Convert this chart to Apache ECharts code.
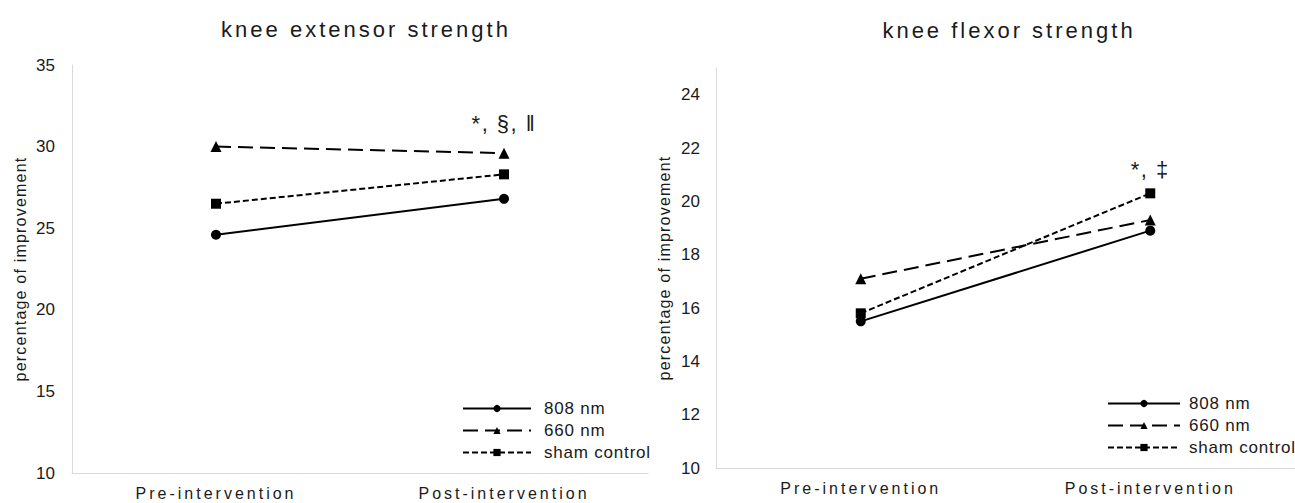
<!DOCTYPE html>
<html>
<head>
<meta charset="utf-8">
<script src="https://cdn.jsdelivr.net/npm/echarts@6/dist/echarts.min.js"></script>
<style>
html,body{margin:0;padding:0;background:#fff;}
#main{width:1295px;height:503px;}
#main text[style*="lsTitle"]{letter-spacing:3px;}
#main text[style*="lsCat"]{letter-spacing:3px;}
#main text[style*="lsName"]{letter-spacing:1.2px;}
#main text[style*="lsMark"]{letter-spacing:1.5px;}
#main text[style*="lsLeg"]{letter-spacing:0.8px;}
</style>
</head>
<body>
<div id="main"></div>
<script>
var categories = ['Pre-intervention', 'Post-intervention'];
var seriesNames = ['808 nm', '660 nm', 'sham control'];
var extensor808 = [24.6, 26.8];
var extensor660 = [30.0, 29.6];
var extensorSham = [26.5, 28.3];
var flexor808 = [15.5, 18.9];
var flexor660 = [17.1, 19.3];
var flexorSham = [15.8, 20.3];
var titles = ['knee extensor strength', 'knee flexor strength'];
var yName = 'percentage of improvement';
var extensorMark = '*, §, \u2016';
var flexorMark = '*, \u2021';

var BASE = '"Liberation Sans", Arial, sans-serif';
function fam(tag) { return tag ? tag + ', ' + BASE : BASE; }
var TXT = '#1a1a1a';
var styles = [
  {symbol: 'circle', symbolSize: 10, type: 'solid'},
  {symbol: 'triangle', symbolSize: 11, type: [15, 7]},
  {symbol: 'rect', symbolSize: 10, type: [6, 3]}
];

function mk(name, idx, data, axisIdx, markIdx, markText, markDist) {
  var st = styles[idx];
  var d = data.map(function (v, i) {
    if (i === markIdx) {
      return {value: v, label: {show: true, position: 'top', distance: markDist, formatter: markText,
        fontSize: 22, color: TXT, fontFamily: fam('lsMark')}};
    }
    return v;
  });
  return {
    name: name, type: 'line', xAxisIndex: axisIdx, yAxisIndex: axisIdx,
    data: d, symbol: st.symbol, symbolSize: st.symbolSize, showSymbol: true,
    lineStyle: {color: '#000', width: 2, type: st.type},
    itemStyle: {color: '#000'},
    emphasis: {disabled: true}, animation: false, z: 3
  };
}

var axisLine = {show: true, lineStyle: {color: '#d9d9d9', width: 1}};
function legend(left, top, w, pad) {
  return {data: seriesNames, orient: 'vertical', left: left, top: top, itemWidth: w, itemHeight: 9, itemGap: 5,
    textStyle: {fontSize: 17, color: TXT, fontFamily: fam('lsLeg'), padding: [0, 0, 0, pad]}, selectedMode: false};
}
function xAx(g) {
  return {type: 'category', gridIndex: g, data: categories, boundaryGap: true, axisLine: axisLine,
    axisTick: {show: false}, axisLabel: {fontSize: 16, color: TXT, margin: 12, fontFamily: fam('lsCat')}};
}
function yAx(g, max, interval, margin) {
  return {type: 'value', gridIndex: g, min: 10, max: max, interval: interval, axisLine: axisLine,
    axisTick: {show: false}, splitLine: {show: false},
    axisLabel: {fontSize: 17, color: TXT, margin: margin, fontFamily: fam(), showMaxLabel: max === 35},
    name: yName, nameLocation: 'middle', nameGap: 44, nameRotate: 90,
    nameTextStyle: {fontSize: 16, color: TXT, fontFamily: fam('lsName')}};
}

var chart = echarts.init(document.getElementById('main'), null, {renderer: 'svg'});
chart.setOption({
  animation: false,
  title: [
    {text: titles[0], left: 361, top: 13, textAlign: 'center',
      textStyle: {fontSize: 22, fontWeight: 'normal', color: TXT, fontFamily: fam('lsTitle')}},
    {text: titles[1], left: 1004, top: 14, textAlign: 'center',
      textStyle: {fontSize: 22, fontWeight: 'normal', color: TXT, fontFamily: fam('lsTitle')}}
  ],
  grid: [
    {left: 72, top: 65, width: 576, height: 408},
    {left: 716, top: 68, width: 579, height: 400}
  ],
  legend: [legend(457, 395, 68, 8), legend(1102, 390, 72, 4)],
  xAxis: [xAx(0), xAx(1)],
  yAxis: [yAx(0, 35, 5, 17), yAx(1, 25, 2, 16)],
  series: [
    mk(seriesNames[0], 0, extensor808, 0, -1),
    mk(seriesNames[1], 1, extensor660, 0, 1, extensorMark, 13),
    mk(seriesNames[2], 2, extensorSham, 0, -1),
    mk(seriesNames[0], 0, flexor808, 1, -1),
    mk(seriesNames[1], 1, flexor660, 1, -1),
    mk(seriesNames[2], 2, flexorSham, 1, 1, flexorMark, 8)
  ]
});
</script>
</body>
</html>
